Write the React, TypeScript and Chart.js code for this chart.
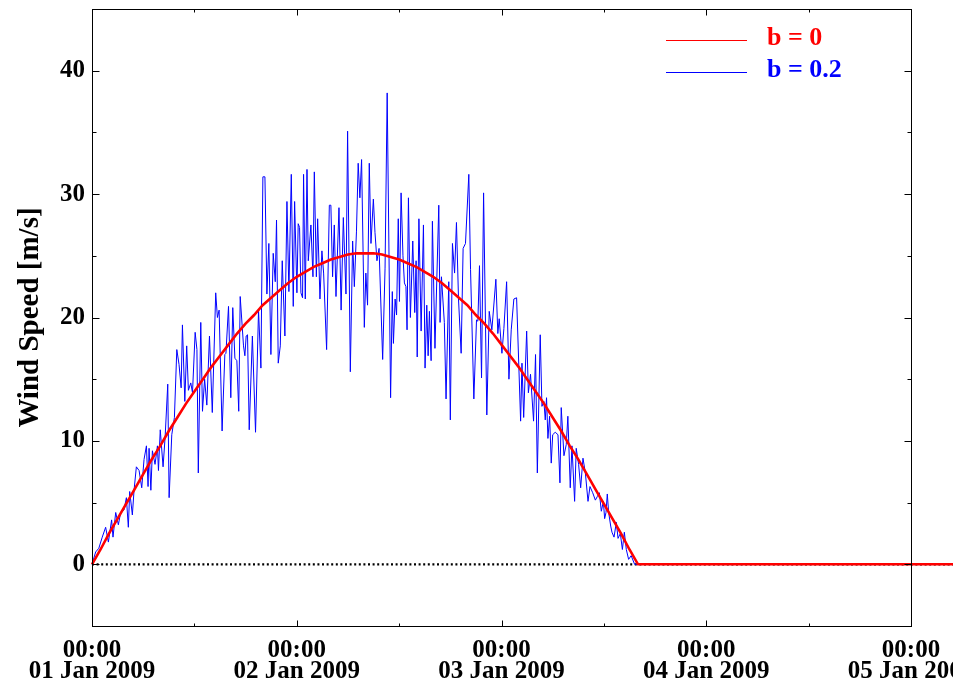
import React, { useEffect, useRef } from 'react';
import { Chart, registerables } from 'chart.js';

Chart.register(...registerables);

// ---- tick data ----
const xTickHours = [0, 24, 48, 72, 96];
const xMinorHours = [12, 36, 60, 84];
const xTickTimes = ['00:00', '00:00', '00:00', '00:00', '00:00'];
const xTickDates = ['01 Jan 2009', '02 Jan 2009', '03 Jan 2009', '04 Jan 2009', '05 Jan 2009'];
const yTicks = [0, 10, 20, 30, 40];
const yMinorTicks = [5, 15, 25, 35];

// ---- series: b = 0 (hours since 01 Jan 2009 00:00, m/s) ----
const redHours = [
  0, 1, 2, 3, 4, 5, 6, 7, 8, 9, 10, 11, 12, 13, 14, 15, 16, 17, 18, 19, 20,
  21, 22, 23, 24, 25, 26, 27, 28, 29, 30, 31, 32, 33, 34, 35, 36, 37, 38, 39, 40,
  41, 42, 43, 44, 45, 46, 47, 48, 49, 50, 51, 52, 53, 54, 55, 56, 57, 58, 59, 60,
  61, 62, 63, 64, 102,
];
const redSpeeds = [
  0, 1.2, 2.5, 3.7, 4.9, 6.1, 7.3, 8.5, 9.6, 10.8, 11.9, 13.0, 14.0, 15.0, 16.0, 16.9, 17.8, 18.7, 19.5, 20.2, 21.0,
  21.6, 22.2, 22.8, 23.3, 23.7, 24.1, 24.4, 24.7, 24.9, 25.1, 25.2, 25.2, 25.2, 25.1, 24.9, 24.7, 24.4, 24.1, 23.7, 23.3,
  22.8, 22.2, 21.6, 21.0, 20.2, 19.5, 18.7, 17.8, 16.9, 16.0, 15.0, 14.0, 13.0, 11.9, 10.8, 9.6, 8.5, 7.3, 6.1, 4.9,
  3.7, 2.5, 1.2, 0, 0,
];

// ---- series: b = 0.2 ----
const blueHours = [
  0, 0.43, 0.8, 1.2, 1.6, 1.92, 2.3, 2.46, 2.78, 3.09, 3.36, 3.75, 4.03, 4.26, 4.42, 4.73, 4.93, 5.2, 5.52, 5.83,
  6.1, 6.38, 6.57, 6.69, 6.9, 7.08, 7.39, 7.67, 7.79, 8.0, 8.33, 8.57, 8.88, 9.04, 9.35, 9.66, 9.94, 10.2, 10.45, 10.6,
  10.88, 11.1, 11.3, 11.58, 11.78, 12.09, 12.3, 12.46,
  12.75, 12.95, 13.2, 13.46, 13.77, 14.1, 14.5, 14.7, 14.9, 15.25, 15.57, 15.7, 16.0, 16.27, 16.5, 16.75, 16.98, 17.2, 17.37, 17.76,
  17.92, 18.07, 18.23, 18.43, 18.8, 19.17, 19.52, 19.8, 20.03, 20.27, 20.5, 20.73, 20.97, 21.24, 21.48, 21.63, 21.83, 22.07, 22.3, 22.61,
  22.85, 23.08, 23.36, 23.59, 23.75, 24.02, 24.17, 24.33, 24.49, 24.68,
  24.8, 25.0, 25.2, 25.35, 25.66, 25.9, 26.06, 26.3, 26.45, 26.72, 26.95, 27.15, 27.5, 27.82, 28.0, 28.2, 28.4, 28.6, 28.95, 29.2,
  29.46, 29.77, 29.96, 30.28, 30.55, 30.75, 31.0, 31.2, 31.4, 31.6, 31.92, 32.1, 32.3, 32.5, 32.7, 32.98, 33.17, 33.4, 33.65, 34.07,
  34.35, 34.6, 35.0, 35.2, 35.33, 35.53, 35.7, 35.9, 36.04, 36.23, 36.45, 36.62, 36.8, 36.93, 37.09, 37.32, 37.6, 37.83, 37.99, 38.12,
  38.32,
  38.58, 38.85, 39.04, 39.24, 39.4, 39.55, 39.75, 39.9, 40.2, 40.65, 40.8, 40.96, 41.3, 41.5, 41.82, 42.0, 42.25, 42.5, 42.72, 42.96,
  43.27, 43.5, 43.78, 44.17, 44.37, 44.76, 45.07, 45.23, 45.42, 45.66, 45.9, 46.28, 46.56, 46.87, 47.34, 47.57, 47.73, 48.05, 48.28, 48.6,
  48.87, 49.14, 49.45, 49.77, 50.24, 50.4, 50.6,
  50.95, 51.15, 51.4, 51.76, 51.99, 52.2, 52.54, 52.74, 52.97, 53.13, 53.28, 53.44, 53.64, 53.83, 54.0, 54.3, 54.62, 54.85, 55.0, 55.32,
  55.59, 55.78, 56.06, 56.26, 56.57, 56.76, 57.04, 57.28, 57.55, 57.83, 58.14, 58.37, 58.69, 59.0, 59.24, 59.47, 59.7, 59.94, 60.09, 60.25,
  60.4, 60.56, 60.8, 60.95, 61.19, 61.46, 61.66, 61.93, 62.17, 62.4, 62.63, 62.9, 63.2, 63.6, 64.0, 102,
];
const blueSpeeds = [
  0, 1.0, 1.3, 2.2, 3.0, 1.8, 3.6, 2.2, 4.2, 3.2, 4.2, 4.4, 5.4, 3.0, 5.9, 4.0, 6.0, 7.9, 7.6, 6.2,
  8.5, 9.6, 6.3, 9.4, 6.0, 9.2, 8.1, 9.6, 7.6, 10.9, 7.9, 10.3, 14.6, 5.4, 10.5, 11.9, 17.4, 16.2, 14.3, 19.4,
  13.2, 17.7, 14.1, 14.7, 13.9, 18.8, 17.4, 7.4,
  19.6, 12.4, 15.0, 12.9, 18.5, 12.3, 22.0, 20.0, 20.6, 10.8, 17.0, 17.1, 20.9, 13.5, 20.8, 16.7, 16.5, 12.4, 21.7, 17.7,
  16.9, 18.5, 18.6, 10.9, 18.5, 10.7, 20.6, 15.9, 31.4, 31.4, 21.9, 26.0, 17.0, 25.2, 22.9, 27.9, 16.3, 17.7, 24.6, 18.5,
  29.4, 22.1, 31.6, 20.9, 29.4, 22.0, 27.6, 27.3, 22.0, 21.6,
  31.6, 21.5, 32.0, 24.6, 27.5, 23.3, 31.8, 23.3, 28.0, 21.5, 25.4, 23.6, 17.4, 29.1, 29.1, 23.3, 27.5, 21.7, 28.9, 20.6,
  28.1, 21.9, 35.1, 15.6, 26.2, 22.5, 27.0, 32.5, 29.7, 32.8, 19.2, 23.6, 21.0, 32.5, 26.0, 29.6, 26.9, 24.6, 25.6, 16.6,
  24.0, 38.2, 13.5, 22.1, 17.9, 21.5, 20.2, 28.0, 21.3, 30.1, 25.0, 22.8, 22.5, 19.0, 29.7, 20.0, 26.2, 20.4, 24.6, 16.8,
  28.0,
  18.9, 27.5, 15.9, 21.0, 16.9, 20.5, 16.5, 27.8, 17.5, 29.1, 19.6, 23.3, 19.6, 13.4, 22.9, 11.7, 26.0, 23.6, 27.7, 21.5,
  17.1, 25.6, 26.0, 31.6, 23.9, 13.4, 19.8, 19.7, 24.2, 15.1, 30.1, 12.1, 20.5, 19.0, 23.1, 18.7, 19.9, 17.1, 19.1, 22.9,
  15.0, 19.0, 21.5, 21.6, 11.6, 16.3, 11.9,
  18.9, 13.9, 15.4, 11.6, 17.0, 7.4, 18.6, 12.8, 13.2, 11.7, 13.5, 10.2, 12.0, 8.2, 10.5, 10.7, 10.5, 6.6, 12.7, 8.8,
  9.7, 12.0, 6.2, 9.6, 5.1, 9.4, 8.1, 6.2, 8.6, 7.4, 5.1, 6.3, 5.8, 5.2, 5.5, 5.8, 4.3, 5.1, 3.7, 4.2,
  5.7, 4.2, 3.1, 2.6, 2.2, 3.4, 2.1, 2.5, 1.2, 2.6, 1.2, 0.4, 0.7, 0.0, 0, 0,
];

// ---- zero reference line ----
const zeroHours = [0, 102];
const zeroSpeeds = [0, 0];

const FONT = '"Liberation Serif", "Times New Roman", serif';

const pairs = (xs: number[], ys: number[]) => xs.map((x, i) => ({ x, y: ys[i] }));

const framePlugin = {
  id: 'frameTicks',
  afterDatasetsDraw(chart: any) {
    const { ctx, chartArea: a, scales } = chart;
    const sx = scales.x;
    const sy = scales.y;
    const L = Math.round(a.left) + 0.5;
    const R = Math.round(a.right) + 0.5;
    const T = Math.round(a.top) + 0.5;
    const B = Math.round(a.bottom) + 0.5;
    ctx.save();
    ctx.strokeStyle = '#000';
    ctx.lineWidth = 1;
    ctx.beginPath();
    const xt = (v: number, len: number) => {
      const p = Math.round(sx.getPixelForValue(v)) + 0.5;
      ctx.moveTo(p, B);
      ctx.lineTo(p, B - len);
      ctx.moveTo(p, T);
      ctx.lineTo(p, T + len);
    };
    const yt = (v: number, len: number) => {
      const p = Math.round(sy.getPixelForValue(v)) + 0.5;
      ctx.moveTo(L, p);
      ctx.lineTo(L + len, p);
      ctx.moveTo(R, p);
      ctx.lineTo(R - len, p);
    };
    xTickHours.forEach((v) => xt(v, 6));
    xMinorHours.forEach((v) => xt(v, 3));
    yTicks.forEach((v) => yt(v, 7));
    yMinorTicks.forEach((v) => yt(v, 4));
    ctx.stroke();
    ctx.strokeRect(L, T, R - L, B - T);
    ctx.restore();
  },
};

const legendPlugin = {
  id: 'innerLegend',
  afterDatasetsDraw(chart: any) {
    const { ctx, chartArea: a } = chart;
    const items = chart.data.datasets.filter((d: any) => d.label);
    ctx.save();
    items.forEach((d: any, i: number) => {
      const y = Math.round(a.top + 31 + i * 32) + 0.5;
      ctx.strokeStyle = d.borderColor;
      ctx.lineWidth = 1;
      ctx.beginPath();
      ctx.moveTo(a.right - 245, y);
      ctx.lineTo(a.right - 164, y);
      ctx.stroke();
      ctx.fillStyle = d.borderColor;
      ctx.font = `bold 26px ${FONT}`;
      ctx.textAlign = 'left';
      ctx.textBaseline = 'alphabetic';
      ctx.fillText(d.label, a.right - 144, y + 4.5);
    });
    ctx.restore();
  },
};

export default function App() {
  const ref = useRef<HTMLCanvasElement>(null);

  useEffect(() => {
    if (!ref.current) return;
    const chart = new Chart(ref.current, {
      type: 'line',
      data: {
        datasets: [
          {
            label: 'b = 0',
            data: pairs(redHours, redSpeeds),
            borderColor: '#ff0000',
            backgroundColor: '#ff0000',
            borderWidth: 2.6,
            pointRadius: 0,
            tension: 0,
            clip: false,
            order: 0,
          },
          {
            label: 'b = 0.2',
            data: pairs(blueHours, blueSpeeds),
            borderColor: '#0000ff',
            backgroundColor: '#0000ff',
            borderWidth: 1,
            pointRadius: 0,
            tension: 0,
            clip: false,
            order: 1,
          },
          {
            label: '',
            data: pairs(zeroHours, zeroSpeeds),
            borderColor: '#000000',
            borderWidth: 2.2,
            borderDash: [2, 2.6],
            pointRadius: 0,
            clip: false,
            order: 2,
          },
        ] as any,
      },
      options: {
        responsive: false,
        animation: false,
        events: [],
        layout: { padding: { top: 9, right: 62, left: 0, bottom: 0 } },
        plugins: { legend: { display: false }, tooltip: { enabled: false } },
        scales: {
          x: {
            type: 'linear',
            min: 0,
            max: 96,
            grid: { display: false, drawTicks: false },
            border: { display: false },
            afterBuildTicks: (s: any) => {
              s.ticks = xTickHours.map((v) => ({ value: v }));
            },
            afterFit: (s: any) => {
              s.height = 59;
              s.paddingLeft = 0;
              s.paddingRight = 0;
            },
            ticks: {
              autoSkip: false,
              maxRotation: 0,
              minRotation: 0,
              padding: 14,
              color: '#000',
              font: { family: FONT, size: 25, weight: 'bold', lineHeight: 0.85 },
              callback: (v: any) => {
                const i = xTickHours.indexOf(Number(v));
                return i >= 0 ? [xTickTimes[i], xTickDates[i]] : '';
              },
            },
          },
          y: {
            type: 'linear',
            min: -5,
            max: 45,
            grid: { display: false, drawTicks: false },
            border: { display: false },
            afterBuildTicks: (s: any) => {
              s.ticks = yTicks.map((v) => ({ value: v }));
            },
            afterFit: (s: any) => {
              s.width = 92;
              s.paddingTop = 0;
              s.paddingBottom = 0;
            },
            ticks: {
              padding: 7,
              color: '#000',
              font: { family: FONT, size: 25, weight: 'bold' },
              callback: (v: any) => String(v),
            },
            title: {
              display: true,
              text: 'Wind Speed [m/s]',
              color: '#000',
              font: { family: FONT, size: 29, weight: 'bold', lineHeight: 1.2 },
              padding: { top: 13, bottom: 0 },
            },
          },
        },
      } as any,
      plugins: [framePlugin, legendPlugin],
    });
    return () => chart.destroy();
  }, []);

  return (
    <div
      style={{
        position: 'fixed',
        left: 0,
        top: 0,
        width: 973,
        height: 685,
        background: '#fff',
      }}
    >
      <div style={{ width: 953, height: 685, overflow: 'hidden' }}>
        <canvas ref={ref} width={973} height={685} style={{ display: 'block' }} />
      </div>
    </div>
  );
}
